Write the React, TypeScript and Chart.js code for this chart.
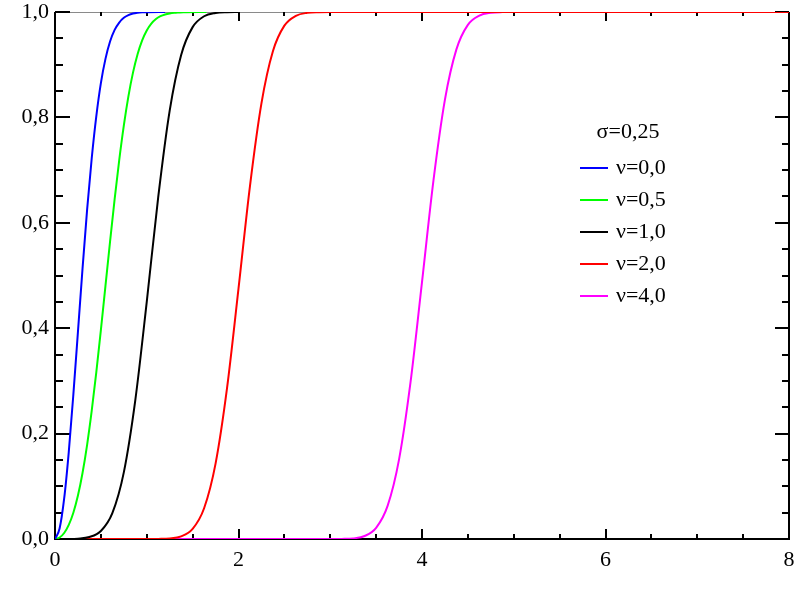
import React, { useEffect, useRef } from "react";
import { Chart, registerables } from "chart.js";

Chart.register(...registerables);

// ---- data (Rice CDF curves, sigma = 0.25) ----
const legendTitle = "σ=0,25";
const seriesLabels = ["ν=0,0", "ν=0,5", "ν=1,0", "ν=2,0", "ν=4,0"];
const seriesColors = ["#0000ff", "#00ff00", "#000000", "#ff0000", "#ff00ff"];

const xNu00 = [0, 0.05, 0.1, 0.15, 0.2, 0.25, 0.3, 0.35, 0.4, 0.45, 0.5, 0.55, 0.6, 0.65, 0.7, 0.75, 0.8, 0.85, 0.9, 0.95, 1.0, 1.2];
const yNu00 = [0, 0.0198, 0.0769, 0.165, 0.274, 0.393, 0.513, 0.625, 0.722, 0.802, 0.865, 0.911, 0.944, 0.966, 0.98, 0.989, 0.994, 0.997, 0.9985, 0.9993, 0.9997, 1.0];

const xNu05 = [0, 0.05, 0.1, 0.15, 0.2, 0.25, 0.3, 0.35, 0.4, 0.45, 0.5, 0.55, 0.6, 0.65, 0.7, 0.75, 0.8, 0.85, 0.9, 0.95, 1.0, 1.05, 1.1, 1.15, 1.2, 1.25, 1.3, 1.35, 1.4, 1.65];
const yNu05 = [0, 0.0028, 0.0114, 0.0267, 0.0499, 0.0824, 0.1252, 0.1788, 0.243, 0.3163, 0.3964, 0.4802, 0.5642, 0.6448, 0.719, 0.7844, 0.8399, 0.8849, 0.9199, 0.9462, 0.965, 0.978, 0.9866, 0.9921, 0.9954, 0.9973, 0.9984, 0.999, 0.9995, 1.0];

const xNu10 = [0, 0.125, 0.25, 0.375, 0.5, 0.625, 0.75, 0.875, 1.0, 1.125, 1.25, 1.375, 1.5, 1.625, 1.75, 1.875, 2.0];
const yNu10 = [0, 0.0001, 0.0007, 0.0037, 0.0152, 0.0491, 0.1265, 0.2632, 0.4501, 0.6488, 0.813, 0.9185, 0.9713, 0.9919, 0.9982, 0.9997, 1.0];

const xNu20 = [0, 1.0, 1.125, 1.25, 1.375, 1.5, 1.625, 1.75, 1.875, 2.0, 2.125, 2.25, 2.375, 2.5, 2.625, 2.75, 2.875, 3.0, 8.0];
const yNu20 = [0, 0, 0.0002, 0.001, 0.005, 0.0192, 0.0583, 0.1431, 0.2862, 0.4751, 0.6698, 0.8267, 0.9255, 0.9741, 0.9928, 0.9984, 0.9997, 1.0, 1.0];

const xNu40 = [0, 3.0, 3.125, 3.25, 3.375, 3.5, 3.625, 3.75, 3.875, 4.0, 4.125, 4.25, 4.375, 4.5, 4.625, 4.75, 4.875, 5.0, 8.0];
const yNu40 = [0, 0, 0.0002, 0.0012, 0.0057, 0.0211, 0.0628, 0.1511, 0.2975, 0.4875, 0.6805, 0.8338, 0.9291, 0.9756, 0.9932, 0.9985, 0.9998, 1.0, 1.0];

const seriesX = [xNu00, xNu05, xNu10, xNu20, xNu40];
const seriesY = [yNu00, yNu05, yNu10, yNu20, yNu40];

const xTickLabels = ["0", "2", "4", "6", "8"];
const yTickLabels = ["0,0", "0,2", "0,4", "0,6", "0,8", "1,0"];

const FONT = "'Liberation Serif', 'Times New Roman', serif";

const frameTicksPlugin = {
  id: "frameTicks",
  beforeDatasetsDraw(chart: any) {
    const { ctx, chartArea: a, scales } = chart;
    const xs = scales.x;
    const ys = scales.y;
    ctx.save();
    ctx.strokeStyle = "#8a8a8a";
    ctx.lineWidth = 1;
    ctx.beginPath();
    ctx.moveTo(a.left, a.top + 0.5);
    ctx.lineTo(a.right, a.top + 0.5);
    ctx.stroke();
    ctx.strokeStyle = "#000";
    ctx.lineWidth = 2;
    ctx.beginPath();
    ctx.moveTo(a.left, a.top);
    ctx.lineTo(a.left, a.bottom);
    ctx.lineTo(a.right, a.bottom);
    ctx.lineTo(a.right, a.top);
    ctx.stroke();
    ctx.beginPath();
    for (let i = 1; i < 16; i++) {
      const px = Math.round(xs.getPixelForValue(i * 0.5));
      const major = i % 4 === 0;
      const lb = major ? 10 : 5;
      const lt = major ? 9 : 4;
      ctx.moveTo(px, a.bottom);
      ctx.lineTo(px, a.bottom - lb);
      ctx.moveTo(px, a.top);
      ctx.lineTo(px, a.top + lt);
    }
    for (let i = 0; i <= 20; i++) {
      const py = Math.round(ys.getPixelForValue(i * 0.05));
      const major = i % 4 === 0;
      const l = major ? 15 : 8;
      const r = major ? 14 : 7;
      ctx.moveTo(a.left, py);
      ctx.lineTo(a.left + l, py);
      ctx.moveTo(a.right, py);
      ctx.lineTo(a.right - r, py);
    }
    ctx.stroke();
    ctx.restore();
  },
};

const legendPlugin = {
  id: "customLegend",
  afterDatasetsDraw(chart: any) {
    const { ctx } = chart;
    ctx.save();
    ctx.font = `22px ${FONT}`;
    ctx.fillStyle = "#000";
    ctx.textBaseline = "middle";
    ctx.textAlign = "center";
    ctx.fillText(legendTitle, 628, 132);
    ctx.textAlign = "left";
    seriesLabels.forEach((lab, i) => {
      const y = 168 + i * 32;
      ctx.strokeStyle = seriesColors[i];
      ctx.lineWidth = 2;
      ctx.beginPath();
      ctx.moveTo(580, y);
      ctx.lineTo(608, y);
      ctx.stroke();
      ctx.fillText(lab, 616, y);
    });
    ctx.restore();
  },
};

export default function App() {
  const ref = useRef<HTMLCanvasElement | null>(null);

  useEffect(() => {
    if (!ref.current) return;
    const datasets = seriesLabels.map((lab, i) => ({
      label: lab,
      data: seriesX[i].map((x, j) => ({ x, y: seriesY[i][j] })),
      borderColor: seriesColors[i],
      backgroundColor: seriesColors[i],
      borderWidth: 2,
      pointRadius: 0,
      fill: false,
      cubicInterpolationMode: "monotone" as const,
    }));

    const chart = new Chart(ref.current, {
      type: "line",
      data: { datasets },
      options: {
        animation: false,
        responsive: false,
        maintainAspectRatio: false,
        layout: { padding: { top: 12, right: 11, left: 0, bottom: 0 } },
        plugins: { legend: { display: false }, tooltip: { enabled: false } },
        scales: {
          x: {
            type: "linear",
            min: 0,
            max: 8,
            grid: { display: false, drawTicks: false },
            border: { display: false },
            ticks: {
              stepSize: 2,
              padding: 8,
              color: "#000",
              font: { family: FONT, size: 22 },
              maxRotation: 0,
              callback: (_v: any, idx: number) => xTickLabels[idx],
            },
            afterFit: (s: any) => {
              s.height = 61;
              s.paddingLeft = 0;
              s.paddingRight = 0;
            },
          },
          y: {
            type: "linear",
            min: 0,
            max: 1,
            grid: { display: false, drawTicks: false },
            border: { display: false },
            ticks: {
              stepSize: 0.2,
              padding: 6,
              color: "#000",
              font: { family: FONT, size: 22 },
              callback: (_v: any, idx: number) => yTickLabels[idx],
            },
            afterFit: (s: any) => {
              s.width = 55;
              s.paddingTop = 0;
              s.paddingBottom = 0;
            },
          },
        },
      },
      plugins: [frameTicksPlugin, legendPlugin],
    });
    return () => chart.destroy();
  }, []);

  return (
    <div style={{ position: "fixed", left: 0, top: 0, width: 800, height: 600, background: "#fff" }}>
      <canvas ref={ref} width={800} height={600} style={{ display: "block" }} />
    </div>
  );
}
